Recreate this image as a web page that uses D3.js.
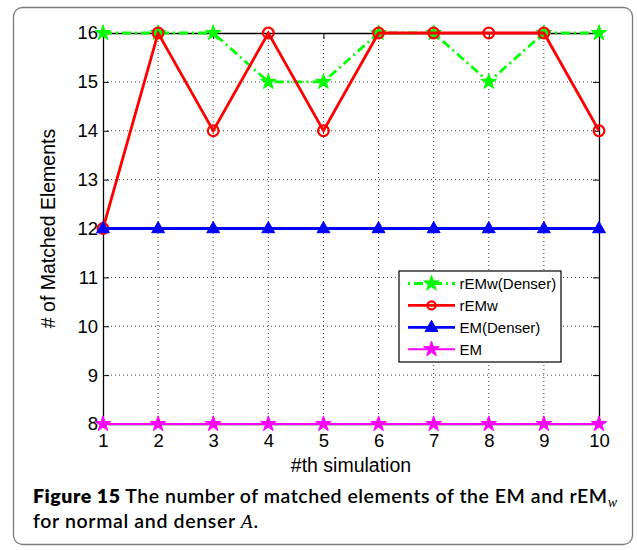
<!DOCTYPE html>
<html>
<head>
<meta charset="utf-8">
<script src="https://cdn.jsdelivr.net/npm/d3@7"></script>
<style>
  html, body { margin: 0; padding: 0; background: #fff; }
  svg { display: block; }
</style>
</head>
<body>
<script>
// Simulation index and matched-element counts per method
const simulations = [1, 2, 3, 4, 5, 6, 7, 8, 9, 10];
const rEMwDenser = [16, 16, 16, 15, 15, 16, 16, 15, 16, 16];
const rEMw = [12, 16, 14, 16, 14, 16, 16, 16, 16, 14];
const emDenser = [12, 12, 12, 12, 12, 12, 12, 12, 12, 12];
const em = [8, 8, 8, 8, 8, 8, 8, 8, 8, 8];
const yTicks = [8, 9, 10, 11, 12, 13, 14, 15, 16];
const seriesNames = ["rEMw(Denser)", "rEMw", "EM(Denser)", "EM"];

const W = 637, H = 550;
const plot = { left: 103, right: 599, top: 33, bottom: 424 };

const svg = d3.select("body").append("svg")
  .attr("width", W).attr("height", H);

// outer frame
svg.append("rect")
  .attr("x", 13.5).attr("y", 7.5)
  .attr("width", 619).attr("height", 537)
  .attr("rx", 9).attr("ry", 9)
  .attr("fill", "#fff").attr("stroke", "#7a7a7a").attr("stroke-width", 1.3);

const x = d3.scaleLinear().domain([1, 10]).range([plot.left, plot.right]);
const y = d3.scaleLinear().domain([8, 16]).range([plot.bottom, plot.top]);

const axisFont = "'Liberation Sans', Arial, sans-serif";

// dotted grid
const grid = svg.append("g");
grid.selectAll("line.gx").data(simulations.slice(1, -1)).join("line")
  .attr("x1", d => x(d)).attr("x2", d => x(d))
  .attr("y1", plot.top).attr("y2", plot.bottom)
  .attr("stroke", "#444").attr("stroke-width", 1).attr("stroke-dasharray", "1,3");
grid.selectAll("line.gy").data(yTicks.slice(1, -1)).join("line")
  .attr("y1", d => y(d)).attr("y2", d => y(d))
  .attr("x1", plot.left).attr("x2", plot.right)
  .attr("stroke", "#444").attr("stroke-width", 1).attr("stroke-dasharray", "1,3");

// axes with inward ticks on all four sides
const axL = svg.append("g").attr("transform", `translate(${plot.left},0)`)
  .call(d3.axisLeft(y).tickValues(yTicks).tickSizeInner(-6).tickSizeOuter(0).tickPadding(12));
const axR = svg.append("g").attr("transform", `translate(${plot.right},0)`)
  .call(d3.axisRight(y).tickValues(yTicks).tickSizeInner(-6).tickSizeOuter(0).tickFormat(""));
const axB = svg.append("g").attr("transform", `translate(0,${plot.bottom})`)
  .call(d3.axisBottom(x).tickValues(simulations).tickSizeInner(-6).tickSizeOuter(0).tickPadding(10));
const axT = svg.append("g").attr("transform", `translate(0,${plot.top})`)
  .call(d3.axisTop(x).tickValues(simulations).tickSizeInner(-6).tickSizeOuter(0).tickFormat(""));
[axL, axR, axB, axT].forEach(a => {
  a.select(".domain").attr("stroke", "#000").attr("stroke-width", 1.3);
  a.selectAll(".tick line").attr("stroke", "#000").attr("stroke-width", 1);
  a.selectAll(".tick text").attr("font-family", axisFont).attr("font-size", 18.5).attr("fill", "#000");
});
axL.selectAll(".tick text").attr("dx", 7);

// axis titles
svg.append("text")
  .attr("x", (plot.left + plot.right) / 2).attr("y", 472)
  .attr("text-anchor", "middle")
  .attr("font-family", axisFont).attr("font-size", 19.5)
  .text("#th simulation");
svg.append("text")
  .attr("transform", `translate(55,${(plot.top + plot.bottom) / 2}) rotate(-90)`)
  .attr("text-anchor", "middle")
  .attr("font-family", axisFont).attr("font-size", 19.5)
  .text("# of Matched Elements");

// series styles
const series = [
  { name: seriesNames[0], values: rEMwDenser, color: "#00ff00", dash: "9,4,2,4", width: 2.8, marker: "star", size: 75 },
  { name: seriesNames[1], values: rEMw, color: "#ff0000", dash: null, width: 2.8, marker: "circle", size: 0 },
  { name: seriesNames[2], values: emDenser, color: "#0000ff", dash: null, width: 2.8, marker: "triangle", size: 72 },
  { name: seriesNames[3], values: em, color: "#ff00ff", dash: null, width: 2, marker: "star", size: 75 }
];

const line = d3.line().x((d, i) => x(simulations[i])).y(d => y(d));

function drawMarker(g, s, cx, cy, scale) {
  if (s.marker === "circle") {
    g.append("circle").attr("cx", cx).attr("cy", cy).attr("r", 5.4 * scale)
      .attr("fill", "none").attr("stroke", s.color).attr("stroke-width", 2.2);
  } else {
    const type = s.marker === "star" ? d3.symbolStar : d3.symbolTriangle;
    const dy = s.marker === "triangle" ? 0.5 : 0;
    g.append("path")
      .attr("d", d3.symbol().type(type).size(s.size * scale * scale)())
      .attr("transform", `translate(${cx},${cy + dy})`)
      .attr("fill", s.color).attr("stroke", s.color).attr("stroke-width", 1);
  }
}

const plotG = svg.append("g");
series.forEach(s => {
  const g = plotG.append("g");
  g.append("path").datum(s.values)
    .attr("d", line)
    .attr("fill", "none").attr("stroke", s.color).attr("stroke-width", s.width)
    .attr("stroke-dasharray", s.dash);
  s.values.forEach((v, i) => drawMarker(g, s, x(simulations[i]), y(v), 1));
});

// legend
const lg = svg.append("g");
const leg = { x: 399, y: 271, w: 162, h: 91 };
lg.append("rect").attr("x", leg.x).attr("y", leg.y).attr("width", leg.w).attr("height", leg.h)
  .attr("fill", "#fff").attr("stroke", "#000").attr("stroke-width", 1.2);
series.forEach((s, i) => {
  const cy = 283.5 + i * 21.9;
  lg.append("line").attr("x1", 408).attr("x2", 455).attr("y1", cy).attr("y2", cy)
    .attr("stroke", s.color).attr("stroke-width", s.width)
    .attr("stroke-dasharray", s.dash ? "2,4,9,4" : null);
  drawMarker(lg, s, 431.5, cy, s.marker === "circle" ? 0.75 : 1);
  lg.append("text").attr("x", 459.5).attr("y", cy + 5.3)
    .attr("font-family", axisFont).attr("font-size", 15).text(s.name);
});

// caption
const capFont = "Lato, 'Noto Sans', sans-serif";
const cap1 = svg.append("text").attr("x", 33).attr("y", 503)
  .attr("font-family", capFont).attr("font-size", 19.5).attr("font-weight", 600).attr("fill", "#000")
  .attr("textLength", 584).attr("lengthAdjust", "spacing");
cap1.append("tspan").attr("font-weight", 800).text("Figure 15");
cap1.append("tspan").text(" The number of matched elements of the EM and rEM");
cap1.append("tspan").attr("font-family", "'Liberation Serif', serif").attr("font-style", "italic")
  .attr("font-weight", "normal").attr("font-size", 14).attr("dy", 4).text("w");
const cap2 = svg.append("text").attr("x", 33).attr("y", 528)
  .attr("font-family", capFont).attr("font-size", 19.5).attr("font-weight", 600).attr("fill", "#000")
  .attr("textLength", 225).attr("lengthAdjust", "spacing");
cap2.append("tspan").text("for normal and denser ");
cap2.append("tspan").attr("font-family", "'Liberation Serif', serif").attr("font-style", "italic")
  .attr("font-weight", "normal").text("A");
cap2.append("tspan").text(".");
</script>
</body>
</html>
